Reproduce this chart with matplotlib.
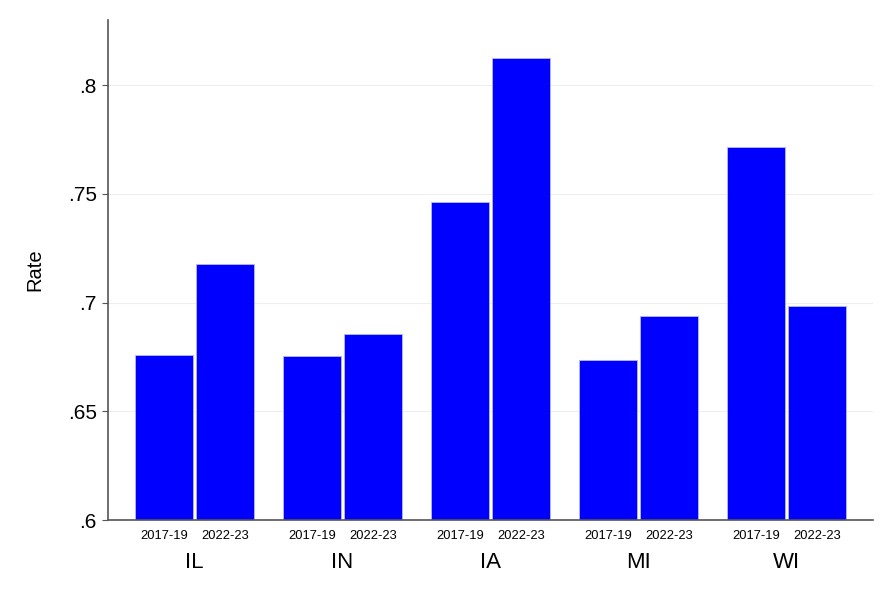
import matplotlib
matplotlib.use("Agg")
import matplotlib.pyplot as plt
import matplotlib.transforms as mtransforms
import numpy as np

plt.rcParams['font.family'] = ['Liberation Sans', 'DejaVu Sans']

states = ["IL", "IN", "IA", "MI", "WI"]
periods = ["2017-19", "2022-23"]
rate_2017_19 = [0.6759, 0.6754, 0.7465, 0.6736, 0.7715]
rate_2022_23 = [0.7176, 0.6854, 0.8123, 0.6937, 0.6985]
yticks = [0.6, 0.65, 0.7, 0.75, 0.8]
ytick_labels = [".6", ".65", ".7", ".75", ".8"]

fig = plt.figure(figsize=(8.94, 5.94), dpi=100)
ax = fig.add_axes([108/894, 74/594, 765/894, 500/594])

g = np.arange(len(states))
off = 0.206
w = 0.392
base = 0.6
series = [rate_2017_19, rate_2022_23]
for k, vals in enumerate(series):
    x = g + (-off if k == 0 else off)
    ax.bar(x, np.array(vals) - base, bottom=base, width=w, color="#0000ff",
           edgecolor="#b8b8ff", linewidth=0.6, zorder=2)

ax.set_xlim(-0.584, len(states) - 1 + 0.584)
ax.set_ylim(0.6, 0.83)
ax.set_yticks(yticks)
ax.set_yticklabels(ytick_labels, fontsize=15)
ax.tick_params(axis='y', length=4, width=0.8, color="#555555", pad=4)
for yv in yticks[1:]:
    ax.axhline(yv, color="#eeeeee", linewidth=0.8, zorder=0)

xt = np.concatenate([g - off, g + off])
xl = [periods[0]] * len(states) + [periods[1]] * len(states)
ax.set_xticks(xt)
ax.set_xticklabels(xl, fontsize=9.3)
ax.tick_params(axis='x', length=0, pad=7)

trans = mtransforms.blended_transform_factory(ax.transData, ax.transAxes)
for i, s in enumerate(states):
    ax.text(i, -43/500, s, transform=trans, ha='center', va='center', fontsize=16)

ax.set_ylabel("Rate", fontsize=14.5, labelpad=17)

for sp in ["top", "right"]:
    ax.spines[sp].set_visible(False)
for sp in ["left", "bottom"]:
    ax.spines[sp].set_color("#555555")
    ax.spines[sp].set_linewidth(1.2)

fig.savefig("out.png", dpi=100)
